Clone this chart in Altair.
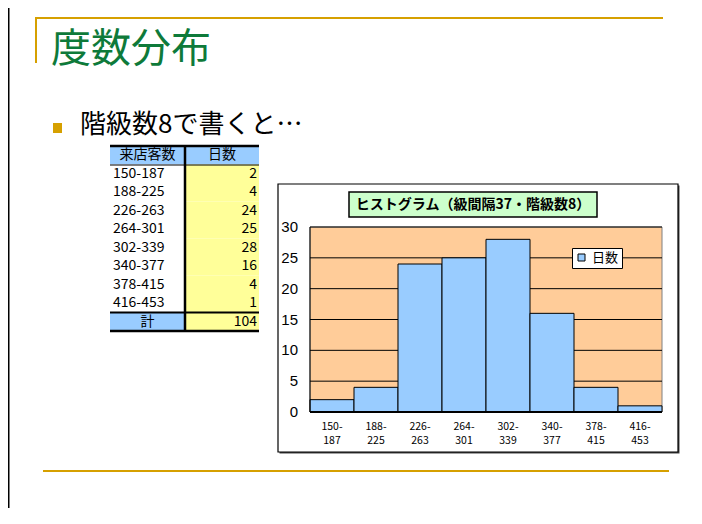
import altair as alt
import pandas as pd

# ---------------- data ----------------
classes = ["150-187", "188-225", "226-263", "264-301", "302-339", "340-377", "378-415", "416-453"]
days = [2, 4, 24, 25, 28, 16, 4, 1]
total_days = 104
y_ticks = [0, 5, 10, 15, 20, 25, 30]
grid_vals = [5, 10, 15, 20, 25, 30]
slide_title = "度数分布"
bullet_text = "階級数8で書くと…"
chart_title = "ヒストグラム（級間隔37・階級数8）"
col_headers = ["来店客数", "日数"]
total_label = "計"
series_name = "日数"

# ---------------- styles ----------------
JP = "Noto Sans CJK JP"
LAT = "Liberation Sans"
GOLD = "#d6a000"
GREEN = "#0e7a3a"
BLUE = "#99ccff"
YELLOW = "#ffff99"
PEACH = "#ffcc99"
W, H = 686, 500
TFS = 14

hist = pd.DataFrame({
    "cls": classes,
    "days": days,
    "lo": [c.split("-")[0] + "-" for c in classes],
    "hi": [c.split("-")[1] for c in classes],
})
hist["series"] = series_name

row_ids = [f"r{i}" for i in range(len(classes) + 2)]
table = pd.DataFrame({
    "row": row_ids,
    "kind": ["header"] + ["data"] * len(classes) + ["total"],
    "c1": [col_headers[0]] + classes + [total_label],
    "c2": [col_headers[1]] + [str(d) for d in days] + [str(total_days)],
})
ticks_df = pd.DataFrame({"v": y_ticks})
grid_df = pd.DataFrame({"v": grid_vals})
one = pd.DataFrame({"k": [0]})

yq = alt.Scale(domain=[0, 30], range=[404, 219], nice=False, zero=True)
xb = alt.Scale(type="band", domain=classes, range=[302, 654], paddingInner=0, paddingOuter=0)
ty = alt.Scale(type="band", domain=row_ids, range=[138, 323], paddingInner=0, paddingOuter=0)


def hline(x1, x2, y, color="black", w=1.0):
    return alt.Chart(one).mark_rule(color=color, strokeWidth=w).encode(
        x=alt.value(x1), x2=alt.value(x2), y=alt.value(y))


def vline(x, y1, y2, color="black", w=1.0):
    return alt.Chart(one).mark_rule(color=color, strokeWidth=w).encode(
        x=alt.value(x), y=alt.value(y1), y2=alt.value(y2))


def box(x1, x2, y1, y2, fill, stroke=None, w=1.0):
    kw = dict(fill=fill)
    if stroke:
        kw.update(stroke=stroke, strokeWidth=w)
    return alt.Chart(one).mark_rect(**kw).encode(
        x=alt.value(x1), x2=alt.value(x2), y=alt.value(y1), y2=alt.value(y2))


def label(text, x, y, size, color="black", font=JP, weight="normal", align="left"):
    return alt.Chart(one).mark_text(
        text=text, fontSize=size, color=color, font=font, fontWeight=weight,
        align=align, baseline="middle").encode(x=alt.value(x), y=alt.value(y))


layers = []
# slide frame and decorations
layers.append(vline(0.75, 0, H, "black", 1.5))
layers.append(hline(28, 655, 10, GOLD, 2))
layers.append(vline(28, 9, 55, GOLD, 2))
layers.append(hline(35, 661, 463, GOLD, 2))
layers.append(label(slide_title, 43, 42, 40, GREEN))
layers.append(box(45, 54, 115, 125, GOLD))
layers.append(label(bullet_text, 72, 117, 26))

# ---------------- table ----------------
layers.append(alt.Chart(table).mark_rect().encode(
    y=alt.Y("row:N", scale=ty, axis=None),
    x=alt.value(102), x2=alt.value(177),
    fill=alt.Fill("kind:N", scale=alt.Scale(domain=["header", "data", "total"],
                                            range=[BLUE, "white", BLUE]), legend=None)))
layers.append(alt.Chart(table).mark_rect().encode(
    y=alt.Y("row:N", scale=ty, axis=None),
    x=alt.value(177), x2=alt.value(251),
    fill=alt.Fill("kind:N", scale=alt.Scale(domain=["header", "data", "total"],
                                            range=[BLUE, YELLOW, YELLOW]), legend=None)))
layers.append(alt.Chart(table).mark_text(align="left", baseline="middle", font=JP, fontSize=TFS,
                                         color="black").encode(
    y=alt.Y("row:N", scale=ty, axis=None), x=alt.value(105), text="c1:N"
).transform_filter("datum.kind == 'data'"))
layers.append(alt.Chart(table).mark_text(align="center", baseline="middle", font=JP, fontSize=TFS,
                                         color="black").encode(
    y=alt.Y("row:N", scale=ty, axis=None), x=alt.value(139.5), text="c1:N"
).transform_filter("datum.kind != 'data'"))
layers.append(alt.Chart(table).mark_text(align="right", baseline="middle", font=JP, fontSize=TFS,
                                         color="black").encode(
    y=alt.Y("row:N", scale=ty, axis=None), x=alt.value(249), text="c2:N"
).transform_filter("datum.kind != 'header'"))
layers.append(alt.Chart(table).mark_text(align="center", baseline="middle", font=JP, fontSize=TFS,
                                         color="black").encode(
    y=alt.Y("row:N", scale=ty, axis=None), x=alt.value(214), text="c2:N"
).transform_filter("datum.kind == 'header'"))
layers.append(hline(102, 251, 138, "black", 2.5))
layers.append(hline(102, 251, 157, "black", 1))
layers.append(hline(102, 251, 304.5, "black", 2))
layers.append(hline(102, 251, 323, "black", 2.5))
layers.append(vline(177, 138, 323, "black", 2.5))

# ---------------- histogram ----------------
layers.append(box(271.5, 671.5, 177.5, 445.5, "#444444"))
layers.append(box(270, 670, 176, 444, "white", "black", 1.2))
layers.append(box(302, 654, 219, 404, PEACH, "#808080", 1))
layers.append(alt.Chart(grid_df).mark_rule(color="black", strokeWidth=1).encode(
    y=alt.Y("v:Q", scale=yq, axis=None), x=alt.value(302), x2=alt.value(654)))
layers.append(alt.Chart(hist).mark_bar(stroke="black", strokeWidth=1).encode(
    x=alt.X("cls:N", scale=xb, axis=None),
    y=alt.Y("days:Q", scale=yq, axis=None),
    y2=alt.datum(0),
    color=alt.Color("series:N", scale=alt.Scale(domain=[series_name], range=[BLUE]),
                    legend=alt.Legend(orient="none", legendX=564, legendY=240, title=None,
                                      fillColor="white", strokeColor="black", padding=3,
                                      symbolType="square", symbolSize=49,
                                      symbolStrokeColor="black", symbolStrokeWidth=1,
                                      labelFont=JP, labelFontSize=13, labelColor="black",
                                      labelOffset=4, cornerRadius=0))))
layers.append(vline(302, 219, 404, "black", 1))
layers.append(hline(302, 654, 404, "black", 2))
layers.append(alt.Chart(ticks_df).mark_text(align="right", baseline="middle", font=LAT,
                                            fontSize=15, color="black").encode(
    y=alt.Y("v:Q", scale=yq, axis=None), x=alt.value(290), text="v:Q"))
layers.append(alt.Chart(hist).mark_text(align="center", baseline="middle", font=JP,
                                        fontSize=10.5, color="black").encode(
    x=alt.X("cls:N", scale=xb, axis=None), y=alt.value(418.5), text="lo:N"))
layers.append(alt.Chart(hist).mark_text(align="center", baseline="middle", font=JP,
                                        fontSize=10.5, color="black").encode(
    x=alt.X("cls:N", scale=xb, axis=None), y=alt.value(432.5), text="hi:N"))
layers.append(box(341, 589, 184, 209, "#ccffcc", "black", 1.5))
layers.append(label(chart_title, 465, 197, 14, "black", JP, "bold", "center"))

chart = alt.layer(*layers).resolve_scale(
    x="independent", y="independent", color="independent", fill="independent"
).properties(
    width=W, height=H, padding=0,
    autosize=alt.AutoSizeParams(type="none"),
    background="white",
).configure_view(stroke=None)

chart.save("out.html", embed_options={"renderer": "svg", "actions": False})
